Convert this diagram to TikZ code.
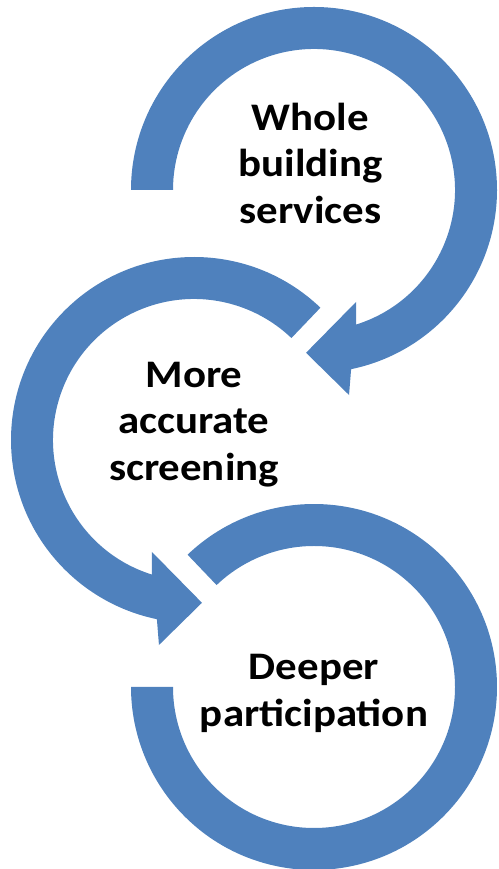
\documentclass[tikz,border=0pt]{standalone}
\usepackage{fontspec}
\setmainfont{Carlito}
\definecolor{ringblue}{RGB}{79,129,189}

\begin{document}
\begin{tikzpicture}[
        x=1pt, y=1pt,
        ring/.style={fill=ringblue},
        step text/.style={font=\bfseries\fontsize{39}{46.5}\selectfont, align=center, inner sep=0pt, xscale=1.1},
        ]
        \useasboundingbox (0,0) rectangle (498,869);

        \coordinate (c1) at (314,679);
        \coordinate (c2) at (194,429);
        \coordinate (c3) at (314,182);

        % top ring, clockwise, arrow into the middle one
        \begin{scope}[shift={(c1)}]
          \fill[ring] (180:183) arc[start angle=180, end angle=-78.3, radius=183]
            -- (-80.3:208) -- (-92.8:163) -- (-69.4:119.6)
            -- (-72.6:141) arc[start angle=-72.6, end angle=180, radius=141] -- cycle;
        \end{scope}

        % middle ring, counter clockwise
        \begin{scope}[shift={(c2)}]
          \fill[ring] (46.3:183) arc[start angle=46.3, end angle=258.3, radius=183]
            -- (260.3:208) -- (272.8:163) -- (249.4:119.6)
            -- (252.6:141) arc[start angle=252.6, end angle=46.3, radius=141] -- cycle;
        \end{scope}

        % bottom ring, no arrow
        \begin{scope}[shift={(c3)}]
          \fill[ring] (133.7:183) arc[start angle=133.7, end angle=-180, radius=183]
            -- (180:141) arc[start angle=-180, end angle=133.7, radius=141] -- cycle;
        \end{scope}

        \node[step text] (whole)   at (310.5,706) {Whole\\building\\services};
        \node[step text] (screen)  at (194,444.5) {More\\accurate\\screening};
        \node[step text] (deeper)  at (314,175.5) {Deeper\\participation};
      \end{tikzpicture}
\end{document}
